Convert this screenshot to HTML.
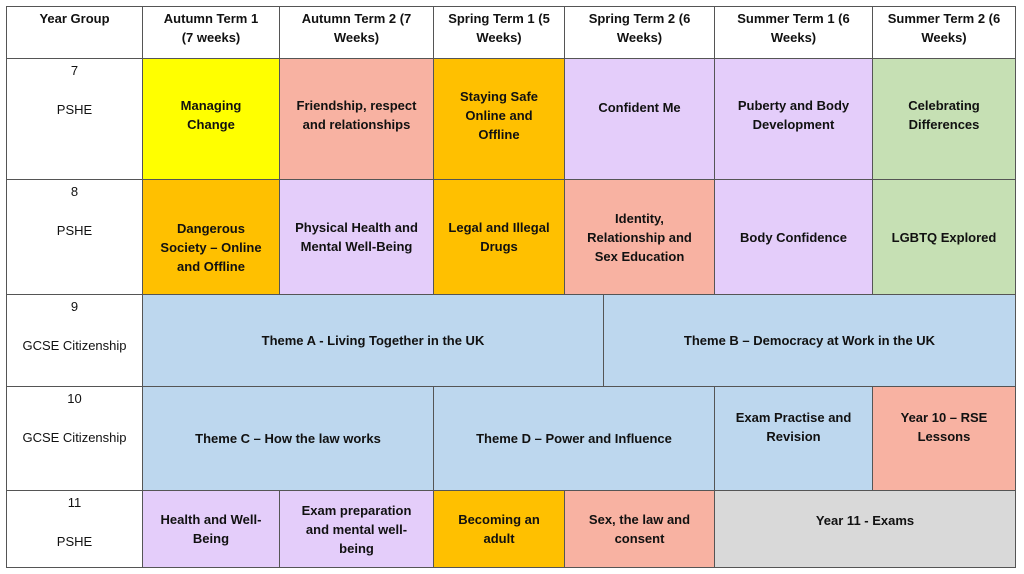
<!DOCTYPE html>
<html><head><meta charset="utf-8"><style>
body{margin:0;width:1024px;height:574px;background:#fff;position:relative;font-family:"Liberation Sans",Arial,sans-serif;overflow:hidden}
.c{position:absolute;box-sizing:border-box;border:1px solid #555;display:flex;align-items:center;justify-content:center;text-align:center;font-size:13px;font-weight:bold;line-height:19px;color:#111;padding:0 4px}
.h{align-items:flex-start;padding-top:2px}
.y{font-weight:normal;flex-direction:column;justify-content:flex-start}
.y span{display:block}
.Y{background:#ffff00}.S{background:#f8b2a2}.O{background:#ffc000}.L{background:#e4cdfa}.G{background:#c6e0b4}.B{background:#bdd7ee}.R{background:#d9d9d9}
</style></head><body>
<div class="c h" style="left:6px;top:6px;width:137px;height:53px">Year Group</div>
<div class="c h" style="left:142px;top:6px;width:138px;height:53px">Autumn Term 1<br>(7 weeks)</div>
<div class="c h" style="left:279px;top:6px;width:155px;height:53px">Autumn Term 2 (7<br>Weeks)</div>
<div class="c h" style="left:433px;top:6px;width:132px;height:53px">Spring Term 1 (5<br>Weeks)</div>
<div class="c h" style="left:564px;top:6px;width:151px;height:53px">Spring Term 2 (6<br>Weeks)</div>
<div class="c h" style="left:714px;top:6px;width:159px;height:53px">Summer Term 1 (6<br>Weeks)</div>
<div class="c h" style="left:872px;top:6px;width:144px;height:53px">Summer Term 2 (6<br>Weeks)</div>

<div class="c y" style="left:6px;top:58px;width:137px;height:122px"><span style="margin-top:2px">7</span><span style="margin-top:20px">PSHE</span></div>
<div class="c Y" style="left:142px;top:58px;width:138px;height:122px;padding-bottom:8px">Managing<br>Change</div>
<div class="c S" style="left:279px;top:58px;width:155px;height:122px;padding-bottom:8px">Friendship, respect<br>and relationships</div>
<div class="c O" style="left:433px;top:58px;width:132px;height:122px;padding-bottom:8px">Staying Safe<br>Online and<br>Offline</div>
<div class="c L" style="left:564px;top:58px;width:151px;height:122px;align-items:flex-start;padding-top:39px">Confident Me</div>
<div class="c L" style="left:714px;top:58px;width:159px;height:122px;padding-bottom:8px">Puberty and Body<br>Development</div>
<div class="c G" style="left:872px;top:58px;width:144px;height:122px;padding-bottom:8px">Celebrating<br>Differences</div>

<div class="c y" style="left:6px;top:179px;width:137px;height:116px"><span style="margin-top:2px">8</span><span style="margin-top:20px">PSHE</span></div>
<div class="c O" style="left:142px;top:179px;width:138px;height:116px;padding-top:20px">Dangerous<br>Society – Online<br>and Offline</div>
<div class="c L" style="left:279px;top:179px;width:155px;height:116px">Physical Health and<br>Mental Well-Being</div>
<div class="c O" style="left:433px;top:179px;width:132px;height:116px">Legal and Illegal<br>Drugs</div>
<div class="c S" style="left:564px;top:179px;width:151px;height:116px">Identity,<br>Relationship and<br>Sex Education</div>
<div class="c L" style="left:714px;top:179px;width:159px;height:116px">Body Confidence</div>
<div class="c G" style="left:872px;top:179px;width:144px;height:116px">LGBTQ Explored</div>

<div class="c y" style="left:6px;top:294px;width:137px;height:93px"><span style="margin-top:2px">9</span><span style="margin-top:20px">GCSE Citizenship</span></div>
<div class="c B" style="left:142px;top:294px;width:462px;height:93px">Theme A - Living Together in the UK</div>
<div class="c B" style="left:603px;top:294px;width:413px;height:93px">Theme B – Democracy at Work in the UK</div>

<div class="c y" style="left:6px;top:386px;width:137px;height:105px"><span style="margin-top:2px">10</span><span style="margin-top:20px">GCSE Citizenship</span></div>
<div class="c B" style="left:142px;top:386px;width:292px;height:105px">Theme C – How the law works</div>
<div class="c B" style="left:433px;top:386px;width:282px;height:105px">Theme D – Power and Influence</div>
<div class="c B" style="left:714px;top:386px;width:159px;height:105px;padding-bottom:24px">Exam Practise and<br>Revision</div>
<div class="c S" style="left:872px;top:386px;width:144px;height:105px;padding-bottom:24px">Year 10 – RSE<br>Lessons</div>

<div class="c y" style="left:6px;top:490px;width:137px;height:78px"><span style="margin-top:2px">11</span><span style="margin-top:20px">PSHE</span></div>
<div class="c L" style="left:142px;top:490px;width:138px;height:78px">Health and Well-<br>Being</div>
<div class="c L" style="left:279px;top:490px;width:155px;height:78px">Exam preparation<br>and mental well-<br>being</div>
<div class="c O" style="left:433px;top:490px;width:132px;height:78px">Becoming an<br>adult</div>
<div class="c S" style="left:564px;top:490px;width:151px;height:78px">Sex, the law and<br>consent</div>
<div class="c R" style="left:714px;top:490px;width:302px;height:78px;padding-bottom:18px">Year 11 - Exams</div>
</body></html>
